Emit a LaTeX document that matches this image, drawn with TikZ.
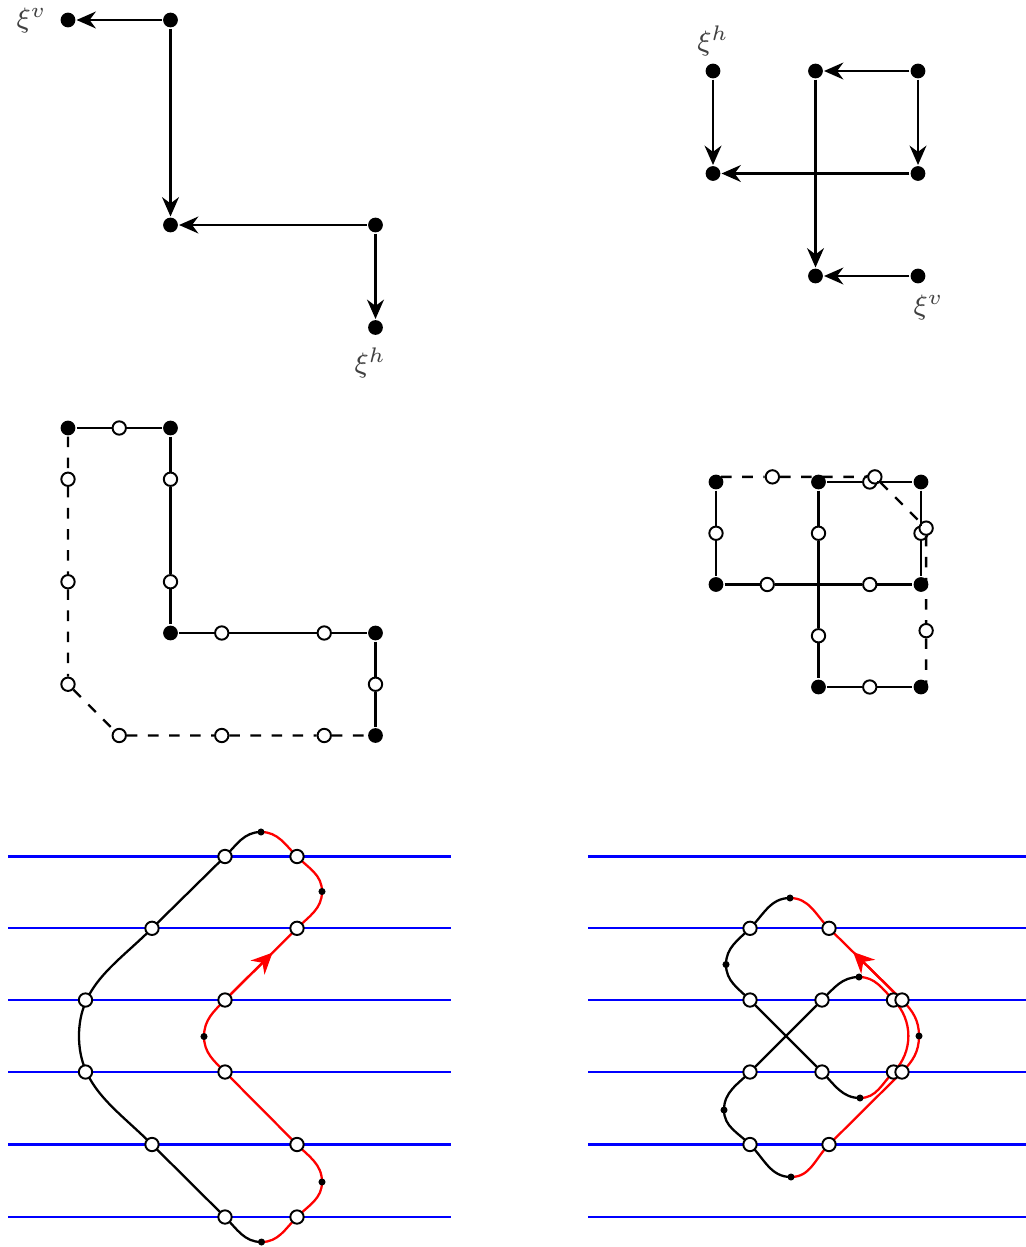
\documentclass[tikz,border=0pt]{standalone}
\usepackage{amsmath}
\usetikzlibrary{arrows.meta, positioning, calc}

\tikzset{
  site/.style={circle, fill=black, inner sep=0pt, minimum size=4.2pt},
  half/.style={circle, draw=black, fill=white, line width=0.55pt, inner sep=0pt, minimum size=3.8pt},
  knot/.style={circle, fill=black, inner sep=0pt, minimum size=2pt},
  flow/.style={-{Stealth[length=5.5pt, width=4.8pt]}},
  flowbig/.style={-{Stealth[length=6pt, width=5.6pt]}},
  level/.style={blue, line width=0.65pt},
  tag/.style={black!75, font=\fontsize{8.5}{10}\selectfont},
}

\begin{document}
\begin{tikzpicture}[line width=0.65pt]
  \useasboundingbox (0,0) rectangle (10.26,-12.47);

  % top left: directed path
  \begin{scope}[shift={(0.68,-0.20)}, x=1.025cm, y=1.025cm]
    \node[site] (v1) at (0,0) {};
    \node[site] (v2) at (1,0) {};
    \node[site] (v3) at (1,-2) {};
    \node[site] (v4) at (3,-2) {};
    \node[site] (v5) at (3,-3) {};
    \draw[flow] (v2) -- (v1);
    \draw[flow] (v2) -- (v3);
    \draw[flow] (v4) -- (v3);
    \draw[flow] (v4) -- (v5);
    \node[tag, left=0pt of v1] (xv1) {$\xi^v$};
    \node[tag, below=-0.4pt of v5, xshift=-1.5pt] (xh1) {$\xi^h$};
  \end{scope}

  % top right: directed path with crossing
  \begin{scope}[shift={(7.13,-0.71)}, x=1.025cm, y=1.025cm]
    \node[site] (w1) at (0,0) {};
    \node[site] (w2) at (1,0) {};
    \node[site] (w3) at (2,0) {};
    \node[site] (w4) at (0,-1) {};
    \node[site] (w5) at (2,-1) {};
    \node[site] (w6) at (1,-2) {};
    \node[site] (w7) at (2,-2) {};
    \draw[flow] (w1) -- (w4);
    \draw[flow] (w3) -- (w2);
    \draw[flow] (w3) -- (w5);
    \draw[flow] (w5) -- (w4);
    \draw[flow] (w2) -- (w6);
    \draw[flow] (w7) -- (w6);
    \node[tag, above=-1.7pt of w1] (xh2) {$\xi^h$};
    \node[tag, below=-0.6pt of w7, xshift=3pt] (xv2) {$\xi^v$};
  \end{scope}

  % middle left: closed loop with midpoints
  \begin{scope}[shift={(0.68,-4.28)}, x=1.025cm, y=1.025cm]
    \node[site] (u1) at (0,0) {};
    \node[site] (u2) at (1,0) {};
    \node[site] (u3) at (1,-2) {};
    \node[site] (u4) at (3,-2) {};
    \node[site] (u5) at (3,-3) {};
    \node[half] (ml1) at (0.5,0) {};
    \node[half] (ml2) at (1,-0.5) {};
    \node[half] (ml3) at (1,-1.5) {};
    \node[half] (ml4) at (1.5,-2) {};
    \node[half] (ml5) at (2.5,-2) {};
    \node[half] (ml6) at (3,-2.5) {};
    \node[half] (ml7) at (0,-0.5) {};
    \node[half] (ml8) at (0,-1.5) {};
    \node[half] (ml9) at (0,-2.5) {};
    \node[half] (ml10) at (0.5,-3) {};
    \node[half] (ml11) at (1.5,-3) {};
    \node[half] (ml12) at (2.5,-3) {};
    \draw (u1) -- (ml1) -- (u2) -- (ml2) -- (ml3) -- (u3) -- (ml4) -- (ml5) -- (u4) -- (ml6) -- (u5);
    \draw[dashed] (u1) -- (ml7) -- (ml8) -- (ml9) -- (ml10) -- (ml11) -- (ml12) -- (u5);
  \end{scope}

  % middle right: closed loop with shifted return
  \begin{scope}[shift={(7.16,-4.82)}, x=1.025cm, y=1.025cm]
    \node[site] (n1) at (0,0) {};
    \node[site] (n2) at (1,0) {};
    \node[site] (n3) at (2,0) {};
    \node[site] (n4) at (0,-1) {};
    \node[site] (n5) at (2,-1) {};
    \node[site] (n6) at (1,-2) {};
    \node[site] (n7) at (2,-2) {};
    \node[half] (ms1) at (1.5,0) {};
    \node[half] (ms2) at (0,-0.5) {};
    \node[half] (ms3) at (1,-0.5) {};
    \node[half] (ms4) at (2,-0.5) {};
    \node[half] (ms5) at (0.5,-1) {};
    \node[half] (ms6) at (1.5,-1) {};
    \node[half] (ms7) at (1,-1.5) {};
    \node[half] (ms8) at (1.5,-2) {};
    \coordinate (e1) at (0.05,0.05);
    \coordinate (e2) at (2.05,-2);
    \node[half] (md1) at (0.55,0.05) {};
    \node[half] (md2) at (1.55,0.05) {};
    \node[half] (md3) at (2.05,-0.45) {};
    \node[half] (md4) at (2.05,-1.45) {};
    \draw (n1) -- (ms2) -- (n4) -- (ms5) -- (ms6) -- (n5);
    \draw (n2) -- (ms1) -- (n3) -- (ms4) -- (n5);
    \draw (n2) -- (ms3) -- (ms7) -- (n6) -- (ms8) -- (n7);
    \draw[dashed] (e1) -- (md1) -- (md2) -- (md3) -- (md4) -- (e2);
  \end{scope}

  % bottom: horizontal levels
  \foreach \y in {8.565, 9.283, 10.00, 10.72, 11.445, 12.17} {
    \draw[level] (0.08,-\y) -- (4.51,-\y);
    \draw[level] (5.88,-\y) -- (10.26,-\y);
  }

  % bottom left: curve
  \coordinate (t1) at (2.61,-8.32);
  \coordinate (r1) at (3.22,-8.915);
  \coordinate (m1) at (2.04,-10.365);
  \coordinate (r2) at (3.22,-11.82);
  \coordinate (b1) at (2.615,-12.42);
  \coordinate (lx) at (0.79,-10.36);
  \coordinate (p11) at (2.25,-8.565);
  \coordinate (p12) at (2.97,-8.565);
  \coordinate (p21) at (1.52,-9.283);
  \coordinate (p22) at (2.97,-9.283);
  \coordinate (p31) at (0.855,-10.00);
  \coordinate (p32) at (2.25,-10.00);
  \coordinate (p41) at (0.855,-10.72);
  \coordinate (p42) at (2.25,-10.72);
  \coordinate (p51) at (1.52,-11.445);
  \coordinate (p52) at (2.97,-11.445);
  \coordinate (p61) at (2.25,-12.17);
  \coordinate (p62) at (2.97,-12.17);
  \draw (t1) to[out=180,in=45] (p11) -- (p21) to[out=225,in=90] (lx)
    to[out=-90,in=135] (p51) -- (p61) to[out=-45,in=180] (b1);
  \draw[red] (b1) to[out=0,in=225] (p62) to[out=45,in=-90] (r2) to[out=90,in=-45] (p52)
    -- (p42) to[out=135,in=-90] (m1) to[out=90,in=225] (p32) -- (p22)
    to[out=45,in=-90] (r1) to[out=90,in=-45] (p12) to[out=135,in=0] (t1);
  \draw[red, flowbig] (p32) -- ($(p32)!0.66!(p22)$);
  \foreach \c in {p11,p12,p21,p22,p31,p32,p41,p42,p51,p52,p61,p62}
    \node[half] (o-\c) at (\c) {};
  \foreach \c in {t1,r1,m1,r2,b1}
    \node[knot] (k-\c) at (\c) {};

  % bottom right: curve with crossing
  \coordinate (s1) at (7.90,-8.98);
  \coordinate (s2) at (7.26,-9.645);
  \coordinate (s3) at (8.59,-9.77);
  \coordinate (s4) at (9.19,-10.36);
  \coordinate (s5) at (8.60,-10.98);
  \coordinate (s6) at (7.24,-11.10);
  \coordinate (s7) at (7.91,-11.77);
  \coordinate (q11) at (7.50,-9.283);
  \coordinate (q12) at (8.29,-9.283);
  \coordinate (q21) at (7.50,-10.00);
  \coordinate (q22) at (8.22,-10.00);
  \coordinate (q23) at (8.935,-10.00);
  \coordinate (q24) at (9.02,-10.00);
  \coordinate (q31) at (7.50,-10.72);
  \coordinate (q32) at (8.22,-10.72);
  \coordinate (q33) at (8.935,-10.72);
  \coordinate (q34) at (9.02,-10.72);
  \coordinate (q41) at (7.50,-11.445);
  \coordinate (q42) at (8.29,-11.445);
  \draw (s1) to[out=180,in=45] (q11) to[out=225,in=90] (s2) to[out=-90,in=135] (q21)
    -- (q32) to[out=-45,in=180] (s5);
  \draw (s3) to[out=180,in=45] (q22) -- (q31) to[out=225,in=90] (s6)
    to[out=-90,in=135] (q41) to[out=-45,in=180] (s7);
  \draw[red] (s5) to[out=0,in=225] (q33) to[out=45,in=-45] (q23) to[out=135,in=0] (s3);
  \draw[red] (s7) to[out=0,in=225] (q42) -- (q34) to[out=45,in=-90] (s4)
    to[out=90,in=-45] (q24) -- (q12) to[out=135,in=0] (s1);
  \draw[red, flowbig] (q24) -- ($(q24)!0.67!(q12)$);
  \foreach \c in {q11,q12,q21,q22,q23,q24,q31,q32,q33,q34,q41,q42}
    \node[half] (o-\c) at (\c) {};
  \foreach \c in {s1,s2,s3,s4,s5,s6,s7}
    \node[knot] (k-\c) at (\c) {};
\end{tikzpicture}
\end{document}
